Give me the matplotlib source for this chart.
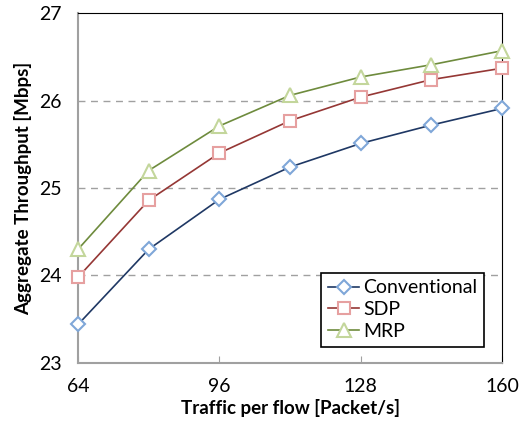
import matplotlib.pyplot as plt

traffic = [64, 80, 96, 112, 128, 144, 160]
conventional = [23.44, 24.30, 24.87, 25.24, 25.51, 25.72, 25.91]
sdp = [23.98, 24.86, 25.40, 25.77, 26.04, 26.24, 26.37]
mrp = [24.30, 25.20, 25.71, 26.06, 26.27, 26.41, 26.57]

plt.rcParams['font.family'] = ['Lato', 'DejaVu Sans']

fig = plt.figure(figsize=(5.24, 4.24), dpi=100)
ax = fig.add_axes([0.149, 0.144, 0.809, 0.825])

ax.plot(traffic, conventional, color='#1F3864', lw=1.2, marker='D', ms=7.5,
        mfc='white', mec='#7FA7D8', mew=1.5, label='Conventional', zorder=3, clip_on=False)
ax.plot(traffic, sdp, color='#953735', lw=1.2, marker='s', ms=9,
        mfc='white', mec='#E6A0A0', mew=1.5, label='SDP', zorder=3, clip_on=False)
ax.plot(traffic, mrp, color='#6E8B3D', lw=1.2, marker='^', ms=10,
        mfc='white', mec='#C3D69B', mew=1.5, label='MRP', zorder=3, clip_on=False)

ax.set_xlim(64, 160)
ax.set_ylim(23, 27)
ax.set_xticks([64, 96, 128, 160])
ax.set_yticks([23, 24, 25, 26, 27])
ax.tick_params(axis='x', direction='in', length=5, color='#A0A0A0', pad=11, labelsize=14)
ax.tick_params(axis='y', length=0, pad=12, labelsize=14)

for y in [24, 25, 26]:
    ax.axhline(y, color='#A0A0A0', lw=1, ls=(0, (5, 4)), zorder=1)

ax.spines['left'].set_color('#A0A0A0')
ax.spines['bottom'].set_color('#A0A0A0')
ax.spines['left'].set_linewidth(1.5)
ax.spines['bottom'].set_linewidth(1.5)
ax.spines['top'].set_color('black')
ax.spines['right'].set_color('black')

ax.set_xlabel('Traffic per flow [Packet/s]', fontsize=13.5, fontweight='bold', labelpad=3)
ax.set_ylabel('Aggregate Throughput [Mbps]', fontsize=13.5, fontweight='bold', labelpad=5)

leg = ax.legend(loc='lower right', bbox_to_anchor=(0.9575, 0.046), borderaxespad=0,
                fontsize=14, fancybox=False, framealpha=1, edgecolor='black',
                handlelength=1.6, handletextpad=0.2, borderpad=0.35, labelspacing=0.25)
leg.get_frame().set_linewidth(1.2)

fig.savefig('out.png', dpi=100)
